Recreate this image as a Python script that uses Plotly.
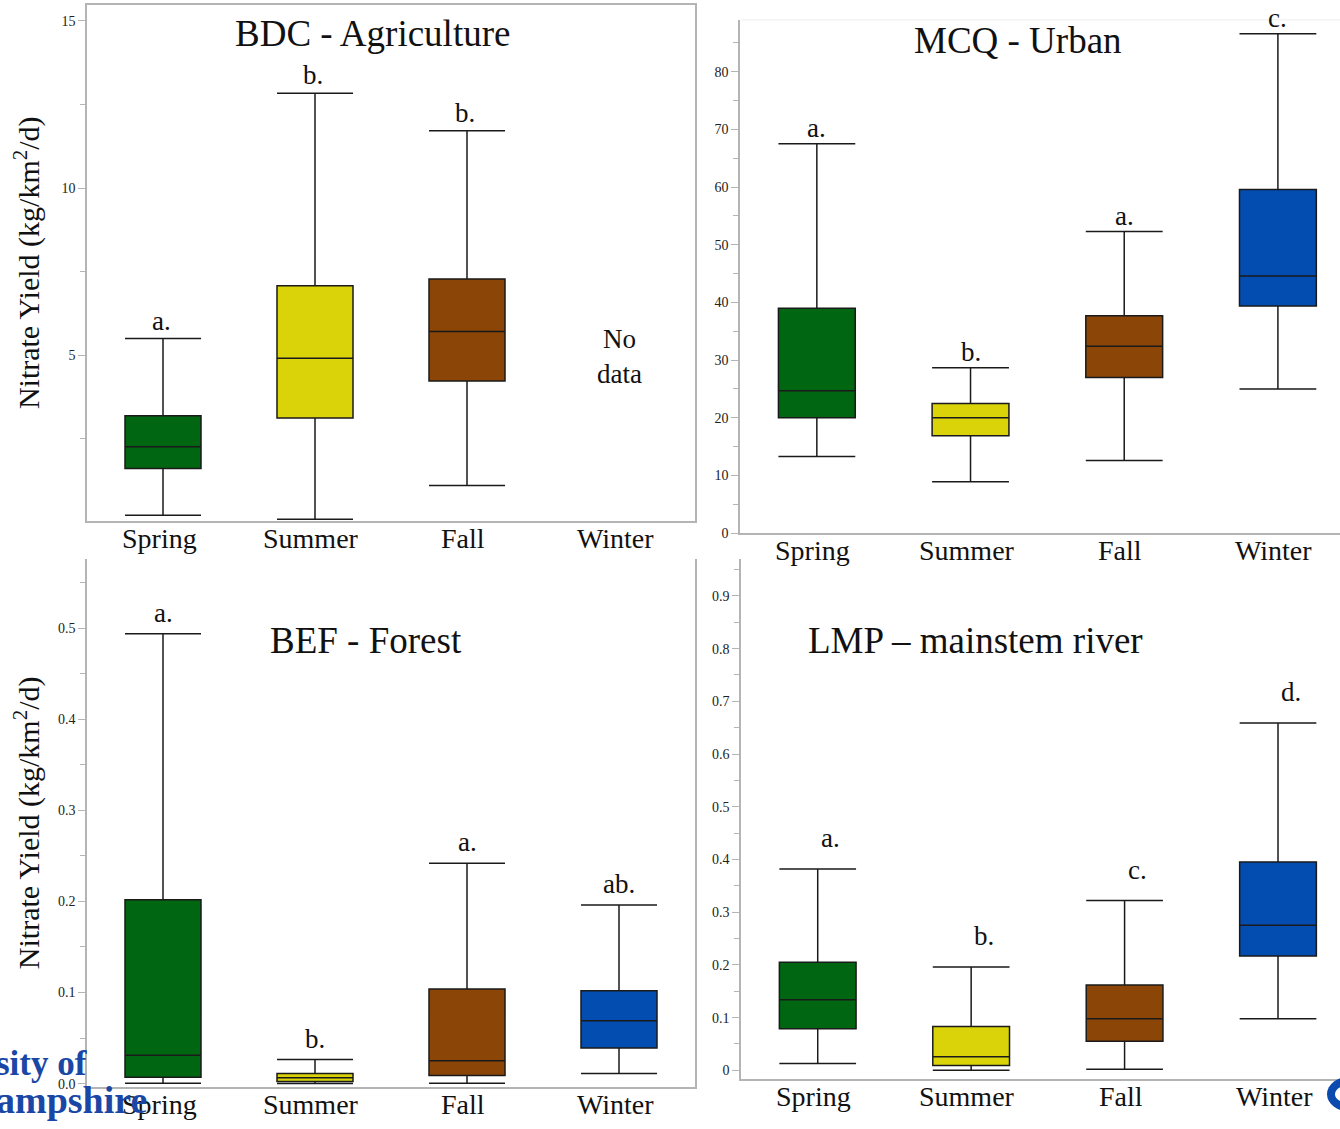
import plotly.graph_objects as go

# ---- data -------------------------------------------------------------
seasons = ["Spring", "Summer", "Fall", "Winter"]

# BDC - Agriculture (no winter samples)
bdc_low = [0.22, 0.10, 1.11]
bdc_q1 = [1.62, 3.13, 4.23]
bdc_med = [2.27, 4.91, 5.71]
bdc_q3 = [3.19, 7.08, 7.28]
bdc_high = [5.50, 12.83, 11.71]
bdc_letters = ["a.", "b.", "b."]

# MCQ - Urban
mcq_low = [13.3, 8.9, 12.6, 25.0]
mcq_q1 = [20.0, 16.9, 27.0, 39.4]
mcq_med = [24.7, 20.0, 32.4, 44.6]
mcq_q3 = [39.0, 22.5, 37.7, 59.6]
mcq_high = [67.5, 28.7, 52.3, 86.6]
mcq_letters = ["a.", "b.", "a.", "c."]

# BEF - Forest
bef_low = [0.0005, 0.0, 0.0005, 0.011]
bef_q1 = [0.007, 0.0024, 0.009, 0.039]
bef_med = [0.031, 0.0063, 0.025, 0.069]
bef_q3 = [0.202, 0.0111, 0.104, 0.102]
bef_high = [0.494, 0.0264, 0.242, 0.196]
bef_letters = ["a.", "b.", "a.", "ab."]

# LMP - mainstem river
lmp_low = [0.013, 0.0, 0.002, 0.098]
lmp_q1 = [0.079, 0.009, 0.055, 0.217]
lmp_med = [0.134, 0.026, 0.098, 0.275]
lmp_q3 = [0.205, 0.083, 0.162, 0.395]
lmp_high = [0.382, 0.196, 0.322, 0.659]
lmp_letters = ["a.", "b.", "c.", "d."]

# ---- styling ----------------------------------------------------------
W, H = 1340, 1129
SERIF = "Liberation Serif, Times New Roman, serif"
season_colors = ["#006611", "#dbd30a", "#8b4506", "#044db0"]
axis_grey = "#b4b4b4"
logo_blue = "#1a47a6"


def px(x):
    return x / W


def py(y):
    return 1 - y / H


fig = go.Figure()

panels = [
    # axis suffix, data, letter shift (x, y), title, title x (px), title y (data)
    ("", (bdc_low, bdc_q1, bdc_med, bdc_q3, bdc_high, bdc_letters), (-2, 18),
     "BDC - Agriculture", 372, 14.61),
    ("2", (mcq_low, mcq_q1, mcq_med, mcq_q3, mcq_high, mcq_letters), (0, 16),
     "MCQ - Urban", 1018, 85.4),
    ("3", (bef_low, bef_q1, bef_med, bef_q3, bef_high, bef_letters), (0, 21),
     "BEF - Forest", 366, 0.486),
    ("4", (lmp_low, lmp_q1, lmp_med, lmp_q3, lmp_high, lmp_letters), (13, 31),
     "LMP \u2013 mainstem river", 975, 0.815),
]

annotations = []
for sfx, (low, q1, med, q3, high, letters), (dx, dy), title, tx, ty in panels:
    xa, ya = "x" + sfx, "y" + sfx
    for i in range(len(med)):
        fig.add_trace(go.Box(
            x=[i], q1=[q1[i]], median=[med[i]], q3=[q3[i]],
            lowerfence=[low[i]], upperfence=[high[i]],
            fillcolor=season_colors[i],
            line=dict(color="#1a1a1a", width=1.5),
            width=0.5, whiskerwidth=1, boxpoints=False,
            showlegend=False, name=seasons[i],
            xaxis=xa, yaxis=ya,
        ))
        annotations.append(dict(
            x=i, y=high[i], xref=xa, yref=ya, text=letters[i],
            showarrow=False, xshift=dx, yshift=dy, yanchor="middle",
            font=dict(family=SERIF, size=27, color="#111"),
        ))
    # season labels under each panel
    for i, s in enumerate(seasons):
        annotations.append(dict(
            x=i, y=0, xref=xa, yref=ya + " domain", text=s, showarrow=False,
            xshift=-4, yshift=-17, yanchor="middle", xanchor="center",
            font=dict(family=SERIF, size=28, color="#111"),
        ))
    annotations.append(dict(x=px(tx), y=ty, xref="paper", yref=ya, text=title,
                            showarrow=False, xanchor="center", yanchor="middle",
                            font=dict(family=SERIF, size=37, color="#111")))

# missing winter samples at BDC
annotations.append(dict(x=3, y=4.96, xref="x", yref="y", text="No<br>data",
                        showarrow=False,
                        font=dict(family=SERIF, size=27, color="#111")))

# y-axis titles
for ya in ("y", "y3"):
    annotations.append(dict(x=px(27), y=0.5, xref="paper", yref=ya + " domain",
                            text="Nitrate Yield (kg/km<sup>2</sup>/d)", textangle=-90,
                            showarrow=False, xanchor="center", yanchor="middle",
                            font=dict(family=SERIF, size=30, color="#111")))

# university wordmark fragments along the lower-left edge
annotations.append(dict(x=px(89), y=0, xref="paper", yref="y3 domain", text="<b>sity of</b>",
                        showarrow=False, xanchor="right", yanchor="middle", yshift=24,
                        font=dict(family=SERIF, size=35, color=logo_blue)))
annotations.append(dict(x=px(149), y=0, xref="paper", yref="y3 domain", text="<b>ampshire</b>",
                        showarrow=False, xanchor="right", yanchor="middle", yshift=-13,
                        font=dict(family=SERIF, size=38, color=logo_blue)))

tick_font = dict(family=SERIF, size=14, color="#222")


def xaxis(domain, rng, anchor, mirror=False):
    return dict(domain=domain, range=rng, anchor=anchor, showticklabels=False,
                ticks="", showline=True, linecolor=axis_grey,
                linewidth=1.5, mirror=mirror, showgrid=False, zeroline=False,
                fixedrange=True)


def yaxis(domain, rng, anchor, dtick, minor, fmt=None, mirror=False):
    d = dict(domain=domain, range=rng, anchor=anchor, tick0=0, dtick=dtick,
             ticks="outside", ticklen=7, tickcolor=axis_grey, tickwidth=1,
             showline=True, linecolor=axis_grey, linewidth=1.5, mirror=mirror,
             showgrid=False, zeroline=False, tickfont=tick_font,
             minor=dict(dtick=minor, ticks="outside", ticklen=5, tickcolor=axis_grey),
             fixedrange=True)
    if fmt:
        d["tickformat"] = fmt
    return d


# bottom-right emblem edge, placed relative to the river panel's baseline
br_bottom, br_top = 1087, 563
br_h = br_bottom - br_top


def br_frac(y):
    return (br_bottom - y) / br_h


fig.update_layout(
    width=W, height=H, margin=dict(l=0, r=0, t=0, b=0),
    paper_bgcolor="white", plot_bgcolor="white", boxmode="overlay",
    xaxis=xaxis([px(87), px(695)], [-0.5, 3.5], "y", mirror=True),
    yaxis=yaxis([py(525), py(5)], [0.04, 15.47], "x", 5, 2.5, mirror=True),
    xaxis2=xaxis([px(740), 1.0], [-0.5, 3.404], "y2"),
    yaxis2=yaxis([py(537), py(20)], [0, 89], "x2", 10, 5),
    xaxis3=xaxis([px(87), px(695)], [-0.5, 3.5], "y3"),
    yaxis3=yaxis([py(1095), py(563)], [-0.004, 0.576], "x3", 0.1, 0.05, fmt=".1f", mirror=True),
    xaxis4=xaxis([px(741), 1.0], [-0.5, 3.404], "y4"),
    yaxis4=yaxis([py(br_bottom), py(br_top)], [-0.017, 0.97], "x4", 0.1, 0.05),
    annotations=annotations,
    shapes=[
        # faint upper border of the urban panel
        dict(type="line", xref="paper", yref="paper", x0=px(741), x1=1.0,
             y0=py(20), y1=py(20), line=dict(color="#eeeeee", width=1)),
        # edge of the logo emblem at the lower-right corner
        dict(type="circle", xref="paper", yref="y4 domain", x0=px(1327), x1=px(1375),
             y0=br_frac(1120), y1=br_frac(1084), fillcolor="#0b4bb0", line=dict(width=0)),
        dict(type="circle", xref="paper", yref="y4 domain", x0=px(1335), x1=px(1371),
             y0=br_frac(1112), y1=br_frac(1092), fillcolor="white", line=dict(width=0)),
    ],
)

fig.write_html("out.html")
